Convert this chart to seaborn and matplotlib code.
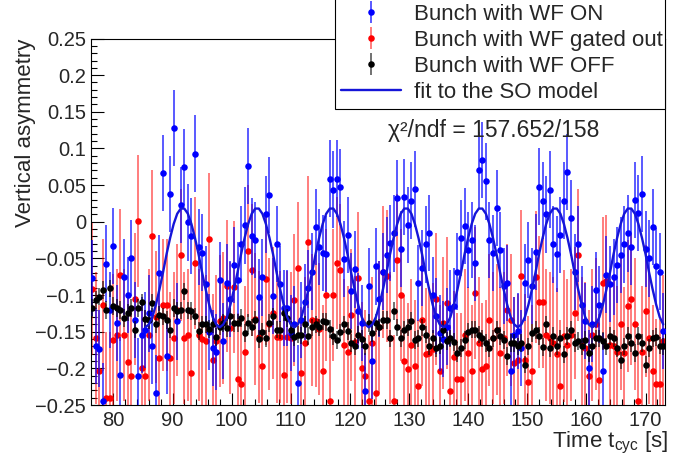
import numpy as np
import pandas as pd
import matplotlib
matplotlib.use("Agg")
import matplotlib.pyplot as plt
import seaborn as sns
from matplotlib.ticker import MultipleLocator, FuncFormatter

# cycle time of each measurement [s]
t_cyc = [76.4, 77.0, 77.6, 78.2, 78.8, 79.4, 80.0, 80.6, 81.2, 81.8,
         82.4, 83.0, 83.6, 84.2, 84.8, 85.4, 86.0, 86.6, 87.2, 87.8,
         88.4, 89.0, 89.6, 90.2, 90.8, 91.4, 92.0, 92.6, 93.2, 93.8,
         94.4, 95.0, 95.6, 96.2, 96.8, 97.4, 98.0, 98.6, 99.2, 99.8,
         100.4, 101.0, 101.6, 102.2, 102.8, 103.4, 104.0, 104.6, 105.2, 105.8,
         106.4, 107.0, 107.6, 108.2, 108.8, 109.4, 110.0, 110.6, 111.2, 111.8,
         112.4, 113.0, 113.6, 114.2, 114.8, 115.4, 116.0, 116.6, 117.2, 117.8,
         118.4, 119.0, 119.6, 120.2, 120.8, 121.4, 122.0, 122.6, 123.2, 123.8,
         124.4, 125.0, 125.6, 126.2, 126.8, 127.4, 128.0, 128.6, 129.2, 129.8,
         130.4, 131.0, 131.6, 132.2, 132.8, 133.4, 134.0, 134.6, 135.2, 135.8,
         136.4, 137.0, 137.6, 138.2, 138.8, 139.4, 140.0, 140.6, 141.2, 141.8,
         142.4, 143.0, 143.6, 144.2, 144.8, 145.4, 146.0, 146.6, 147.2, 147.8,
         148.4, 149.0, 149.6, 150.2, 150.8, 151.4, 152.0, 152.6, 153.2, 153.8,
         154.4, 155.0, 155.6, 156.2, 156.8, 157.4, 158.0, 158.6, 159.2, 159.8,
         160.4, 161.0, 161.6, 162.2, 162.8, 163.4, 164.0, 164.6, 165.2, 165.8,
         166.4, 167.0, 167.6, 168.2, 168.8, 169.4, 170.0, 170.6, 171.2, 171.8,
         172.4, 173.0]

# bunch with WF ON
asym_on = [-0.077, -0.169, -0.173, -0.245, -0.057, -0.120, -0.033, -0.138, -0.209, -0.075,
           -0.100, -0.049, -0.134, -0.211, -0.154, -0.148, -0.125, -0.170, -0.234, -0.070,
           0.067, -0.183, 0.038, 0.128, -0.136, 0.023, 0.075, -0.001, -0.019, 0.093,
           -0.034, -0.042, -0.085, -0.150, -0.172, -0.178, -0.079, -0.163, -0.083, -0.105,
           -0.059, -0.080, -0.030, -0.005, 0.076, -0.020, -0.025, -0.103, -0.076, 0.010,
           0.037, -0.101, -0.030, -0.085, -0.118, -0.118, -0.152, -0.140, -0.220, -0.134,
           -0.109, -0.090, -0.068, -0.007, -0.034, -0.043, -0.044, 0.059, 0.044, 0.059,
           0.047, -0.051, -0.018, -0.094, -0.065, -0.122, -0.138, -0.231, -0.088, -0.190,
           -0.061, -0.105, -0.068, -0.045, -0.029, -0.016, 0.032, -0.037, 0.034, -0.004,
           0.029, 0.045, -0.084, -0.063, -0.031, -0.015, -0.100, -0.129, -0.152, -0.160,
           -0.143, -0.118, -0.115, -0.068, -0.022, -0.006, -0.039, -0.025, -0.056, 0.071,
           0.084, 0.055, -0.025, -0.043, 0.019, -0.038, -0.088, -0.084, -0.204, -0.154,
           -0.149, -0.172, -0.083, -0.052, -0.088, -0.041, 0.048, 0.029, 0.010, 0.044,
           -0.031, -0.044, -0.018, 0.029, 0.068, 0.005, -0.069, -0.030, -0.113, -0.135,
           -0.199, -0.140, -0.093, -0.113, -0.204, -0.072, -0.085, -0.075, -0.059, -0.045,
           -0.031, -0.016, -0.034, 0.030, 0.012, 0.038, -0.037, -0.050, -0.007, -0.061,
           -0.068, -0.149]

# bunch with WF gated out
asym_gated = [-0.092, -0.158, -0.203, -0.114, -0.240, -0.240, -0.161, -0.155, -0.073, -0.154,
              -0.191, -0.210, -0.105, 0.001, -0.199, -0.211, -0.154, -0.019, -0.130, -0.186,
              -0.113, -0.114, -0.186, -0.158, -0.120, -0.045, -0.158, -0.154, -0.206, -0.056,
              -0.154, -0.160, -0.162, -0.024, -0.188, -0.163, -0.136, -0.131, -0.088, -0.145,
              -0.089, -0.215, -0.221, -0.178, -0.040, -0.066, -0.133, -0.157, -0.197, -0.078,
              -0.140, -0.124, -0.157, -0.157, -0.209, -0.157, -0.159, -0.107, -0.063, -0.206,
              -0.166, -0.027, -0.134, -0.136, -0.146, -0.204, -0.100, -0.244, -0.100, -0.056,
              -0.066, -0.168, -0.177, -0.127, -0.164, -0.077, -0.200, -0.211, -0.244, -0.165,
              -0.233, -0.143, -0.069, -0.074, -0.159, -0.244, -0.052, -0.100, -0.190, -0.201,
              -0.168, -0.197, -0.224, -0.134, -0.181, -0.179, -0.174, -0.106, -0.204, -0.138,
              -0.111, -0.231, -0.184, -0.215, -0.215, -0.154, -0.179, -0.203, -0.097, -0.165,
              -0.201, -0.197, -0.134, -0.159, -0.147, -0.179, -0.159, -0.120, -0.134, -0.193,
              -0.188, -0.074, -0.188, -0.219, -0.204, -0.075, -0.109, -0.109, -0.155, -0.159,
              -0.165, -0.180, -0.224, -0.156, -0.168, -0.154, -0.125, -0.045, -0.165, -0.172,
              -0.211, -0.154, -0.140, -0.216, -0.083, -0.081, -0.168, -0.169, -0.177, -0.140,
              -0.179, -0.115, -0.106, -0.140, -0.244, -0.177, -0.122, -0.159, -0.204, -0.222,
              -0.222, -0.163]

# bunch with WF OFF
asym_off = [-0.118, -0.107, -0.102, -0.093, -0.120, -0.091, -0.115, -0.118, -0.120, -0.131,
            -0.124, -0.118, -0.147, -0.118, -0.110, -0.133, -0.134, -0.111, -0.140, -0.127,
            -0.129, -0.134, -0.147, -0.118, -0.122, -0.121, -0.095, -0.121, -0.122, -0.129,
            -0.149, -0.140, -0.140, -0.146, -0.140, -0.157, -0.143, -0.138, -0.145, -0.129,
            -0.138, -0.138, -0.131, -0.152, -0.138, -0.144, -0.134, -0.160, -0.150, -0.159,
            -0.138, -0.129, -0.147, -0.148, -0.124, -0.131, -0.147, -0.157, -0.154, -0.155,
            -0.140, -0.156, -0.144, -0.140, -0.144, -0.136, -0.137, -0.146, -0.156, -0.161,
            -0.151, -0.140, -0.149, -0.165, -0.170, -0.154, -0.160, -0.170, -0.138, -0.152,
            -0.138, -0.144, -0.134, -0.134, -0.159, -0.122, -0.144, -0.159, -0.147, -0.144,
            -0.135, -0.161, -0.159, -0.144, -0.154, -0.170, -0.159, -0.172, -0.169, -0.147,
            -0.163, -0.159, -0.164, -0.179, -0.172, -0.161, -0.150, -0.147, -0.147, -0.154,
            -0.159, -0.165, -0.172, -0.159, -0.148, -0.156, -0.161, -0.183, -0.165, -0.165,
            -0.170, -0.165, -0.195, -0.170, -0.152, -0.148, -0.156, -0.171, -0.140, -0.172,
            -0.156, -0.170, -0.159, -0.181, -0.156, -0.147, -0.165, -0.163, -0.170, -0.161,
            -0.179, -0.170, -0.159, -0.159, -0.163, -0.170, -0.156, -0.159, -0.172, -0.189,
            -0.170, -0.156, -0.165, -0.179, -0.156, -0.165, -0.195, -0.172, -0.159, -0.157,
            -0.169, -0.170]

# uncertainties (roughly constant per bunch type)
err_on = 0.052
err_gated = 0.09
err_off = 0.012

# SO model fit, drawn from t = 85.4 s on
fit_first = 15
fit_asym = [-0.144, -0.140, -0.130, -0.113, -0.092, -0.069, -0.044, -0.022, -0.003, 0.011,
            0.018, 0.018, 0.011, -0.003, -0.022, -0.044, -0.069, -0.092, -0.113, -0.130, -0.140,
            -0.144, -0.140, -0.130, -0.113, -0.092, -0.069, -0.044, -0.022, -0.003, 0.011,
            0.018, 0.018, 0.011, -0.003, -0.022, -0.044, -0.069, -0.092, -0.113, -0.130, -0.140,
            -0.144, -0.140, -0.130, -0.113, -0.092, -0.069, -0.044, -0.022, -0.003, 0.011,
            0.018, 0.018, 0.011, -0.003, -0.022, -0.044, -0.069, -0.092, -0.113, -0.130, -0.140,
            -0.144, -0.140, -0.130, -0.113, -0.092, -0.069, -0.044, -0.022, -0.003, 0.011,
            0.018, 0.018, 0.011, -0.003, -0.022, -0.044, -0.069, -0.092, -0.113, -0.130, -0.140,
            -0.144, -0.140, -0.130, -0.113, -0.092, -0.069, -0.044, -0.022, -0.003, 0.011,
            0.018, 0.018, 0.011, -0.003, -0.022, -0.044, -0.069, -0.092, -0.113, -0.130, -0.140,
            -0.144, -0.140, -0.130, -0.113, -0.092, -0.069, -0.044, -0.022, -0.003, 0.011,
            0.018, 0.018, 0.011, -0.003, -0.022, -0.044, -0.069, -0.092, -0.113, -0.130, -0.140,
            -0.144, -0.140, -0.130, -0.113, -0.092, -0.069, -0.044, -0.022, -0.003, 0.011,
            0.018, 0.018, 0.011, -0.003, -0.022, -0.044, -0.069, -0.092, -0.113, -0.130, -0.140,
            -0.143, -0.139, -0.129, -0.112, -0.092, -0.069, -0.044, -0.022, -0.003, 0.011,
            0.018, 0.018, 0.011, -0.003, -0.022, -0.044, -0.069, -0.092, -0.113, -0.128, -0.132]

chi2_text = "\u03c7\u00b2/ndf = 157.652/158"

sns.set_theme(style="ticks")
plt.rcParams['font.family'] = ['Liberation Sans', 'DejaVu Sans']
plt.rcParams['mathtext.fontset'] = 'custom'
plt.rcParams['mathtext.rm'] = 'Liberation Sans'
plt.rcParams['mathtext.it'] = 'Liberation Sans:italic'
plt.rcParams['axes.unicode_minus'] = True

fig = plt.figure(figsize=(6.89, 4.58), dpi=100)
ax = fig.add_axes([0.1328, 0.1157, 0.8324, 0.8002])

h_gated = ax.errorbar(t_cyc, asym_gated, yerr=err_gated, fmt='o', ms=4.7, color='#ff0000',
                      ecolor=(1, 0, 0, 0.55), elinewidth=1.3, capsize=0, mew=0, zorder=2)
h_on = ax.errorbar(t_cyc, asym_on, yerr=err_on, fmt='o', ms=4.7, color='#0000ff',
                   ecolor=(0, 0, 1, 0.7), elinewidth=1.3, capsize=0, mew=0, zorder=3)
h_off = ax.errorbar(t_cyc, asym_off, yerr=err_off, fmt='o', ms=4.7, color='black',
                    ecolor=(0, 0, 0, 0.6), elinewidth=1.3, capsize=0, mew=0, zorder=4)

df_fit = pd.DataFrame({'t': t_cyc[fit_first:], 'asym': fit_asym[:len(t_cyc) - fit_first]})
sns.lineplot(data=df_fit, x='t', y='asym', color='#1515d8', lw=1.7, ax=ax, zorder=5)
fit_line = ax.lines[-1]

ax.set_xlim(76.3, 173.3)
ax.set_ylim(-0.25, 0.25)
ax.xaxis.set_major_locator(MultipleLocator(10))
ax.xaxis.set_minor_locator(MultipleLocator(2))
ax.yaxis.set_major_locator(MultipleLocator(0.05))
ax.yaxis.set_minor_locator(MultipleLocator(0.01))


def fmt_y(v, pos):
    if abs(v) < 1e-9:
        return "0"
    return f"{round(v, 3):g}".replace("-", "\u2212")


ax.yaxis.set_major_formatter(FuncFormatter(fmt_y))
ax.tick_params(which='both', direction='in', top=False, right=False, color='black', width=0.8)
ax.tick_params(which='major', length=9, labelsize=14.5)
ax.tick_params(which='minor', length=4.5)
ax.tick_params(axis='x', pad=4)
ax.tick_params(axis='y', pad=4)
for s in ax.spines.values():
    s.set_color('black')
    s.set_linewidth(0.8)

ax.set_ylabel('Vertical asymmetry', fontsize=16, loc='top')
ax.yaxis.set_label_coords(-0.097, 1.0)
ax.set_xlabel(r'Time $\mathrm{t_{cyc}}$ [s]', fontsize=16, loc='right')
ax.xaxis.set_label_coords(1.006, -0.068)

fig.text(388 / 689, 1 - 130 / 458, chi2_text, fontsize=16.5, ha='left', va='center')

leg = ax.legend(handles=[h_on, h_gated, h_off, fit_line],
                labels=['Bunch with WF ON', 'Bunch with WF gated out',
                        'Bunch with WF OFF', 'fit to the SO model'],
                loc='upper left', bbox_to_anchor=(335 / 689, 1.004, 330 / 689, 0),
                bbox_transform=fig.transFigure, mode='expand', fontsize=16,
                frameon=True, fancybox=False, edgecolor='black', framealpha=1,
                borderpad=0.25, labelspacing=0.23, handlelength=2.7,
                handletextpad=0.6, borderaxespad=0)
leg.get_frame().set_linewidth(0.8)
leg.set_zorder(10)

fig.savefig('out.png', dpi=100)
